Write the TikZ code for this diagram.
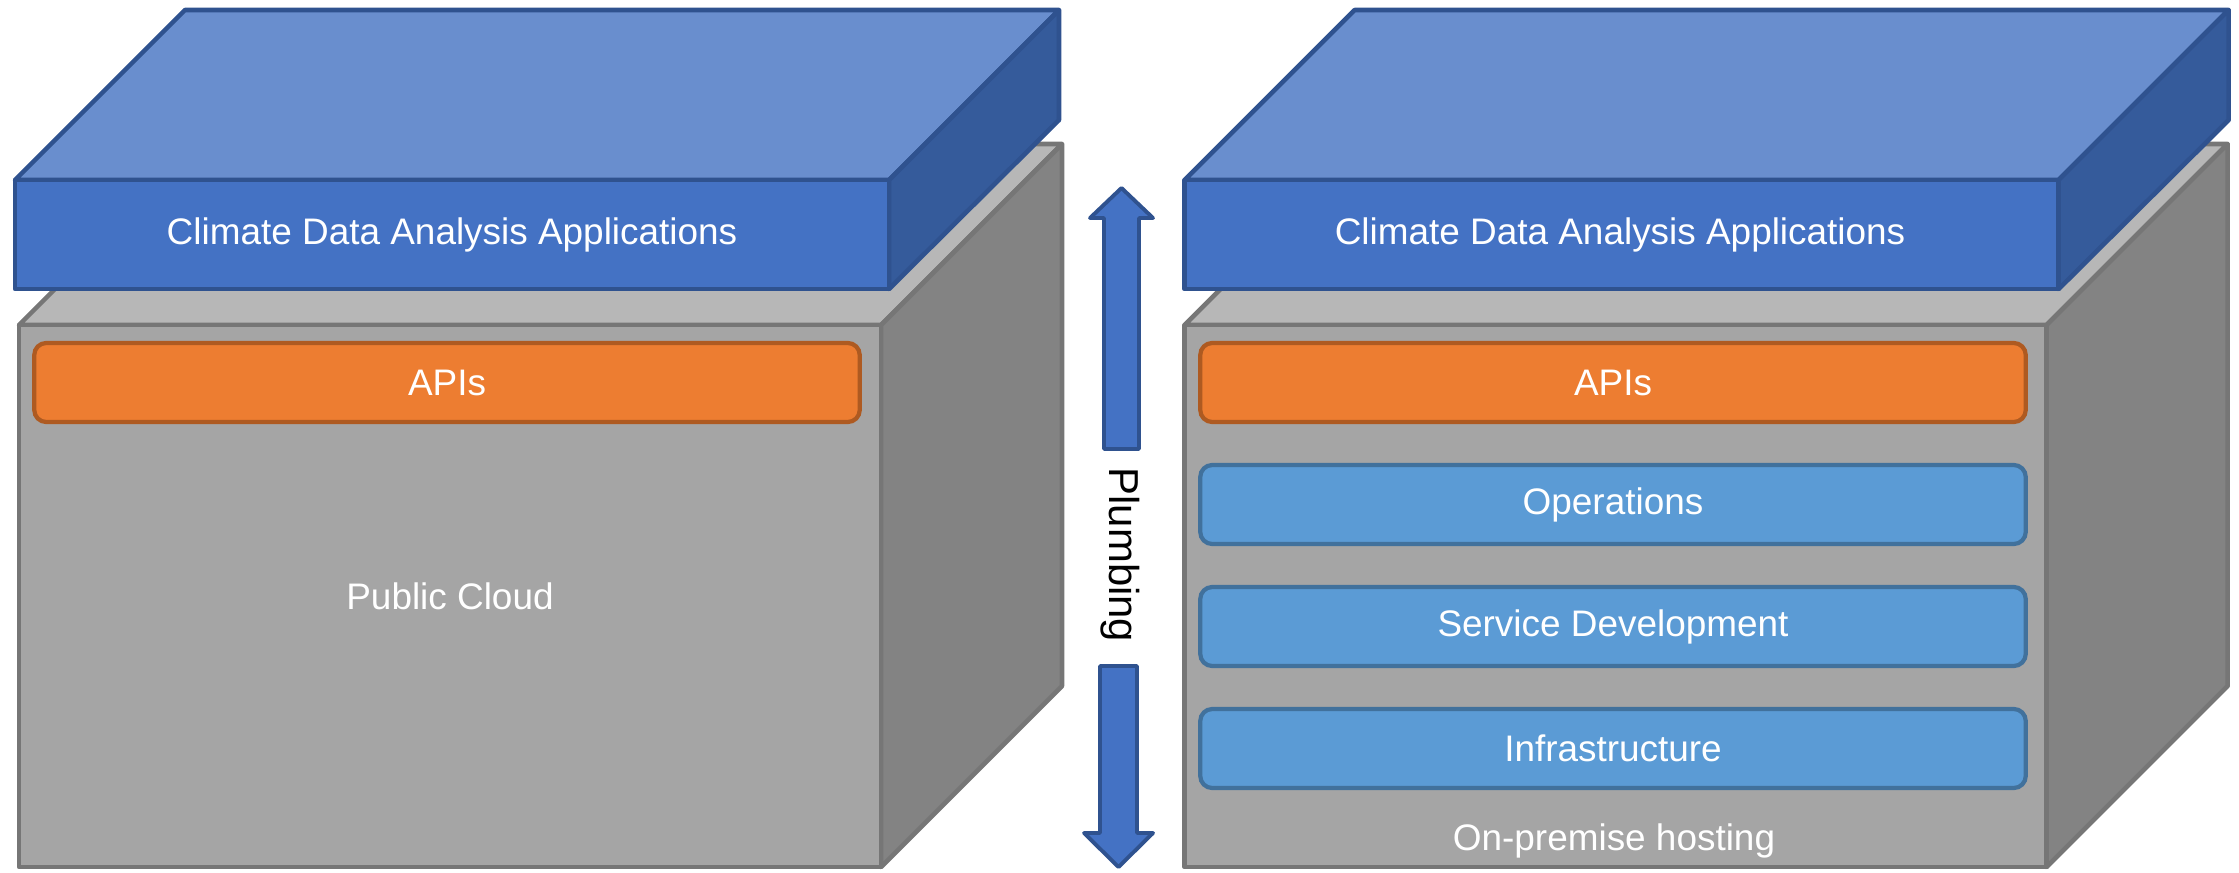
\documentclass[tikz,border=0pt]{standalone}
\usepackage{fontspec}
\setmainfont{Liberation Sans}
\definecolor{slabFront}{HTML}{4472C4}
\definecolor{slabTop}{HTML}{698ECE}
\definecolor{slabSide}{HTML}{355B9B}
\definecolor{slabEdge}{HTML}{2F528F}
\definecolor{cubeFront}{HTML}{A5A5A5}
\definecolor{cubeTop}{HTML}{B7B7B7}
\definecolor{cubeSide}{HTML}{838383}
\definecolor{cubeEdge}{HTML}{767676}
\definecolor{apiFill}{HTML}{ED7D31}
\definecolor{apiEdge}{HTML}{AE5A21}
\definecolor{layFill}{HTML}{5B9BD5}
\definecolor{layEdge}{HTML}{41719C}
\newcommand{\lblfont}{\fontsize{10.5}{12}\selectfont}
\begin{document}
\begin{tikzpicture}[x=0.01cm,y=-0.01cm,
  slabface/.style={draw=slabEdge, line width=1.3pt, line join=round},
  cubeface/.style={draw=cubeEdge, line width=1.3pt, line join=round},
  layerbox/.style={rounded corners=0.12cm, line width=1.2pt, minimum width=8.25cm,
    minimum height=0.79cm, inner sep=0pt, text=white, font=\lblfont},
  apibox/.style={layerbox, fill=apiFill, draw=apiEdge},
  bluebox/.style={layerbox, fill=layFill, draw=layEdge},
  facetext/.style={text=white, font=\lblfont, inner sep=0pt},
  arrowshape/.style={fill=slabFront, draw=slabEdge, line width=1.1pt, line join=round}
]
\useasboundingbox (0,0) rectangle (2239,872);

% ---------- left block ----------
\begin{scope}
  % gray cube
  \draw[cubeface, fill=cubeTop] (19,325) -- (200,144) -- (1062,144) -- (881,325) -- cycle;
  \draw[cubeface, fill=cubeSide] (881,325) -- (1062,144) -- (1062,686) -- (881,867) -- cycle;
  \draw[cubeface, fill=cubeFront] (19,325) rectangle (881,867);
\end{scope}
\begin{scope}
  % blue slab
  \draw[slabface, fill=slabTop] (15,180) -- (185,10) -- (1059,10) -- (889,180) -- cycle;
  \draw[slabface, fill=slabSide] (889,180) -- (1059,10) -- (1059,120) -- (889,289) -- cycle;
  \draw[slabface, fill=slabFront] (15,180) rectangle (889,289);
\end{scope}
\node[facetext] (Lapp) at (452,234.5) {Climate Data Analysis Applications};
\node[apibox] (Lapi) at (447,382.5) {APIs};
\node[facetext] (Lcloud) at (450,596) {Public Cloud};

% ---------- right block ----------
\begin{scope}[xshift=11.65cm]
  \draw[cubeface, fill=cubeTop] (19,325) -- (200,144) -- (1062,144) -- (881,325) -- cycle;
  \draw[cubeface, fill=cubeSide] (881,325) -- (1062,144) -- (1062,686) -- (881,867) -- cycle;
  \draw[cubeface, fill=cubeFront] (19,325) rectangle (881,867);
\end{scope}
\begin{scope}[xshift=11.69cm]
  \draw[slabface, fill=slabTop] (15,180) -- (185,10) -- (1059,10) -- (889,180) -- cycle;
  \draw[slabface, fill=slabSide] (889,180) -- (1059,10) -- (1059,120) -- (889,289) -- cycle;
  \draw[slabface, fill=slabFront] (15,180) rectangle (889,289);
\end{scope}
\node[facetext] (Rapp) at (1620,234.5) {Climate Data Analysis Applications};
\node[apibox] (Rapi) at (1613,382.5) {APIs};
\node[bluebox] (Rops) at (1613,504.5) {Operations};
\node[bluebox] (Rdev) at (1613,626.5) {Service Development};
\node[bluebox] (Rinf) at (1613,748.5) {Infrastructure};
\node[facetext, anchor=base] (Rhost) at (1614,850) {On-premise hosting};

% ---------- plumbing arrows ----------
\draw[arrowshape] (1121.5,188) -- (1153,218) -- (1139,218) -- (1139,449) -- (1104,449)
  -- (1104,218) -- (1090,218) -- cycle;
\draw[arrowshape] (1100,666) -- (1137,666) -- (1137,833) -- (1153,833) -- (1118.5,867)
  -- (1084,833) -- (1100,833) -- cycle;
\node[rotate=-90, font=\fontsize{11.9}{13}\selectfont, inner sep=0pt] (plumb) at (1120,555) {Plumbing};
\end{tikzpicture}
\end{document}
